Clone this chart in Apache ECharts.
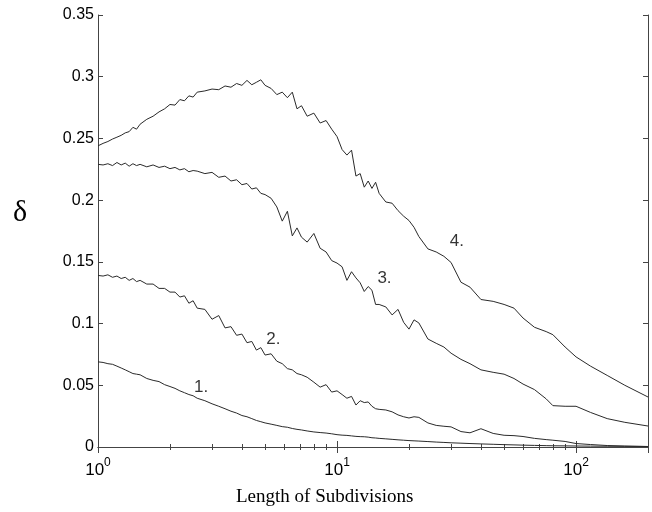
<!DOCTYPE html>
<html>
<head>
<meta charset="utf-8">
<script src="https://cdn.jsdelivr.net/npm/echarts@6/dist/echarts.min.js"></script>
<style>html,body{margin:0;padding:0;background:#fff}#c{width:652px;height:512px}</style>
</head>
<body>
<div id="c"></div>
<script>
const xGrid = [1,1.05,1.1,1.15,1.2,1.25,1.3,1.35,1.4,1.45,1.5,1.6,1.7,1.8,1.9,2.0,2.1,2.2,2.3,2.4,2.5,2.6,2.8,3.0,3.2,3.4,3.6,3.8,4.0,4.2,4.4,4.6,4.8,5.0,5.3,5.6,5.9,6.2,6.5,6.8,7.1,7.5,8,8.5,9,9.5,10,10.5,11,11.5,12,12.5,13,13.5,14,14.5,15,16,17,18,19,20,21,22,24,26,28,30,33,36,40,45,50,55,60,67,75,80,90,100,115,135,160,200];

const curve1 = [0.069,0.0685,0.0675,0.067,0.0655,0.064,0.0625,0.061,0.0595,0.059,
0.0585,0.0555,0.054,0.053,0.0505,0.049,0.0475,0.0455,0.044,0.0425,
0.0415,0.0395,0.0375,0.035,0.033,0.031,0.029,0.0275,0.0255,0.0245,
0.023,0.0215,0.0205,0.0195,0.0185,0.0175,0.0165,0.016,0.015,0.0143,
0.0138,0.013,0.0122,0.0117,0.0113,0.0107,0.010,0.0096,0.0094,0.009,
0.0086,0.0084,0.0083,0.008,0.0075,0.0073,0.007,0.0066,0.0062,0.0058,
0.0055,0.0052,0.005,0.0048,0.0044,0.004,0.0037,0.0034,0.0031,0.0028,
0.0025,0.0022,0.0019,0.0017,0.0015,0.0013,0.0011,0.001,0.0009,0.0008,
0.0007,0.0006,0.0005,0.0004];

const curve2 = [0.139,0.1385,0.1395,0.1375,0.1385,0.1365,0.1375,0.135,0.1365,0.134,
0.135,0.132,0.132,0.1285,0.1285,0.1255,0.1255,0.1215,0.1225,0.1165,
0.1185,0.1125,0.1115,0.1035,0.1065,0.0965,0.0975,0.0905,0.0915,0.0845,
0.0855,0.0785,0.0805,0.0745,0.0755,0.0695,0.0675,0.0635,0.0625,0.0595,
0.0585,0.0565,0.0525,0.0485,0.0505,0.0445,0.0455,0.0425,0.0395,0.041,
0.034,0.0375,0.036,0.0365,0.033,0.031,0.0305,0.030,0.0285,0.026,
0.0245,0.0235,0.0245,0.024,0.0195,0.0175,0.0168,0.0163,0.0125,0.0115,
0.0148,0.011,0.0095,0.0092,0.0085,0.007,0.006,0.0055,0.0045,0.0028,
0.002,0.0012,0.0008,0.0004];

const curve3 = [0.229,0.2285,0.2295,0.228,0.2305,0.2285,0.230,0.2275,0.2295,0.228,
0.229,0.227,0.2285,0.2265,0.2275,0.2255,0.2265,0.2245,0.2255,0.223,
0.224,0.2235,0.2215,0.2225,0.2185,0.2195,0.2155,0.2165,0.2125,0.2135,
0.209,0.210,0.2055,0.2045,0.2015,0.1945,0.183,0.191,0.171,0.1775,
0.170,0.166,0.173,0.161,0.158,0.151,0.149,0.146,0.135,0.142,
0.137,0.133,0.126,0.130,0.127,0.1155,0.1155,0.1135,0.107,0.1115,
0.101,0.0955,0.103,0.1005,0.0875,0.084,0.081,0.076,0.071,0.0675,
0.0625,0.0605,0.059,0.0555,0.051,0.0465,0.039,0.0335,0.033,0.033,
0.028,0.023,0.020,0.017];

const curve4 = [0.244,0.246,0.2475,0.2495,0.251,0.2525,0.2545,0.2555,0.259,0.2575,
0.2615,0.2655,0.268,0.2715,0.274,0.2775,0.277,0.2815,0.2805,0.2845,
0.2835,0.2875,0.2885,0.290,0.2895,0.2925,0.2915,0.2945,0.293,0.297,
0.2935,0.2955,0.2975,0.293,0.2905,0.2855,0.2875,0.283,0.2875,0.274,
0.2765,0.268,0.2705,0.2625,0.2645,0.2575,0.2515,0.241,0.2365,0.2405,
0.2195,0.2215,0.2105,0.2155,0.2095,0.2145,0.2055,0.1985,0.1975,0.1915,
0.187,0.1835,0.178,0.1705,0.1605,0.158,0.1545,0.1495,0.1335,0.1295,
0.1195,0.118,0.1155,0.1125,0.1045,0.097,0.0935,0.091,0.081,0.073,
0.0655,0.058,0.050,0.0405];

const curveLabels = [[2.7, 0.0486, '1.'], [5.42, 0.0875, '2.'], [15.8, 0.137, '3.'], [31.7, 0.167, '4.']];
const yTicks = [0, 0.05, 0.1, 0.15, 0.2, 0.25, 0.3, 0.35];
const xTitle = 'Length of Subdivisions';
const yTitle = 'δ';

const AX = '#444';
const LINE = '#2a2a2a';
const sans = 'Liberation Sans, Arial, sans-serif';
const serif = 'Liberation Serif, Times New Roman, serif';

function pairs(ys) { return xGrid.map((x, i) => [x, ys[i]]); }
function lineSeries(ys) {
  return { type: 'line', data: pairs(ys), showSymbol: false, symbol: 'none',
    lineStyle: { color: LINE, width: 1 }, silent: true, z: 3 };
}
function supLabel(v) {
  const e = Math.round(Math.log10(v));
  if (Math.abs(Math.pow(10, e) - v) > 1e-6) return '';
  return '{b|10}{s|' + e + '}';
}

const chart = echarts.init(document.getElementById('c'), null, { renderer: 'canvas' });
chart.setOption({
  animation: false,
  backgroundColor: '#fff',
  grid: { left: 98, right: 4, top: 15, bottom: 65 },
  xAxis: [
    { type: 'log', logBase: 10, min: 1, max: 200, position: 'bottom',
      axisLine: { show: true, lineStyle: { color: AX, width: 1 } },
      axisTick: { show: true, inside: true, length: 6, lineStyle: { color: AX } },
      minorTick: { show: true, splitNumber: 9, length: 3, lineStyle: { color: AX } },
      splitLine: { show: false }, minorSplitLine: { show: false },
      axisLabel: { show: true, margin: 10, formatter: supLabel,
        rich: { b: { fontSize: 17, fontFamily: sans, color: '#000', verticalAlign: 'bottom', lineHeight: 22 },
                s: { fontSize: 12, fontFamily: sans, color: '#000', verticalAlign: 'top', lineHeight: 12 } } } },
    { type: 'log', logBase: 10, min: 1, max: 200, position: 'top',
      axisLine: { show: true, lineStyle: { color: AX, width: 1 } },
      axisTick: { show: true, inside: true, length: 6, lineStyle: { color: AX } },
      minorTick: { show: true, splitNumber: 9, length: 3, lineStyle: { color: AX } },
      splitLine: { show: false }, axisLabel: { show: false } }
  ],
  yAxis: [
    { type: 'value', min: 0, max: 0.35, interval: 0.05, position: 'left',
      axisLine: { show: true, lineStyle: { color: AX, width: 1 } },
      axisTick: { show: true, inside: true, length: 5, lineStyle: { color: AX } },
      splitLine: { show: false },
      axisLabel: { margin: 4, fontSize: 16, fontFamily: sans, color: '#000',
        formatter: v => { const t = yTicks.find(k => Math.abs(k - v) < 1e-9); return t === undefined ? '' : String(t); } } },
    { type: 'value', min: 0, max: 0.35, interval: 0.05, position: 'right',
      axisLine: { show: true, lineStyle: { color: AX, width: 1 } },
      axisTick: { show: true, inside: true, length: 5, lineStyle: { color: AX } },
      splitLine: { show: false }, axisLabel: { show: false } }
  ],
  series: [
    lineSeries(curve1), lineSeries(curve2), lineSeries(curve3), lineSeries(curve4),
    { type: 'scatter', symbolSize: 1, itemStyle: { color: 'rgba(0,0,0,0)' }, silent: true, z: 5,
      data: curveLabels.map(d => ({ value: [d[0], d[1]], name: d[2] })),
      label: { show: true, position: 'inside', formatter: p => p.name,
        fontSize: 17, fontFamily: sans, color: '#000' } }
  ],
  graphic: [
    { type: 'text', left: 13, top: 198, style: { text: yTitle, fontSize: 30, fontFamily: serif, fill: '#000' } },
    { type: 'text', left: 236, top: 488, style: { text: xTitle, fontSize: 19, fontFamily: serif, fill: '#000' } }
  ]
});
</script>
</body>
</html>
